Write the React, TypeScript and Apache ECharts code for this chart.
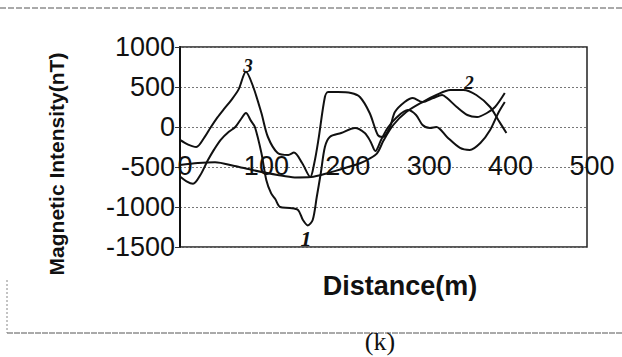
import React, { useEffect, useRef } from "react";
import * as echarts from "echarts";

// Distance (m) and magnetic intensity (nT) for each profile
const dist1 = [0, 8, 16, 25, 34, 42, 50, 60, 68, 75, 81, 87, 92, 100, 106, 112, 117, 123, 135, 145, 151, 157, 163, 168, 173, 178, 184, 198, 215, 227, 234, 240, 247, 255, 266, 280, 290, 298, 307, 315, 328, 344, 356, 369, 381, 391, 399];
const vals1 = [-620, -680, -710, -600, -420, -280, -160, -60, 0, 100, 175, 80, 0, -325, -662, -830, -900, -1000, -1012, -1037, -1162, -1230, -1162, -875, -575, -250, -125, -75, -12, -75, -180, -300, -162, -12, 120, 212, 150, 25, -12, 0, -125, -262, -287, -200, -37, 175, 312];

const dist2 = [0, 22, 43, 67, 90, 120, 141, 161, 182, 203, 222, 232, 242, 250, 262, 278, 298, 315, 332, 348, 364, 381, 391, 401];
const vals2 = [-475, -450, -440, -487, -540, -600, -630, -625, -575, -512, -450, -400, -330, -170, 25, 187, 312, 400, 462, 462, 400, 250, 87, -75];

const dist3 = [0, 10, 20, 30, 38, 46, 53, 63, 72, 81, 90, 100, 108, 120, 133, 140, 150, 160, 165, 170, 178, 182, 194, 210, 221, 233, 243, 249, 258, 264, 276, 286, 298, 311, 322, 328, 340, 353, 365, 377, 387, 399];
const vals3 = [-162, -220, -250, -130, 0, 120, 212, 337, 470, 690, 500, 175, -125, -325, -350, -320, -450, -625, -450, -162, 375, 437, 437, 425, 375, 175, -100, -125, 0, 187, 312, 362, 312, 362, 400, 362, 250, 150, 125, 175, 250, 425];

const xTicks = [0, 100, 200, 300, 400, 500];
const yTicks = [-1500, -1000, -500, 0, 500, 1000];

const curveLabels = ["1", "2", "3"];

function pairs(d: number[], v: number[]) {
  return d.map((x, i) => [x, v[i]]);
}

export default function App() {
  const ref = useRef<HTMLDivElement>(null);
  useEffect(() => {
    if (!ref.current) return;
    const chart = echarts.init(ref.current, null, { renderer: "svg" });
    const lineStyle = { color: "#111", width: 2 };
    const mk = (name: string, d: number[], v: number[]) => ({
      name,
      type: "line",
      data: pairs(d, v),
      showSymbol: false,
      smooth: 0.3,
      lineStyle,
      z: 5,
    });
    chart.setOption({
      animation: false,
      backgroundColor: "#fff",
      grid: {
        left: 180,
        top: 47,
        width: 407,
        height: 200,
        show: true,
        borderColor: "#222",
        borderWidth: 1.5,
        backgroundColor: "transparent",
      },
      xAxis: {
        type: "value",
        min: xTicks[0],
        max: xTicks[xTicks.length - 1],
        interval: 100,
        axisLine: { show: false },
        axisTick: { show: false },
        splitLine: { show: false },
        axisLabel: {
          margin: -81,
          verticalAlign: "middle",
          padding: [0, 0, 0, 10],
          fontSize: 27,
          fontFamily: "Liberation Sans, Arial, sans-serif",
          color: "#111",
          formatter: (v: number) => String(v),
        },
      },
      yAxis: {
        type: "value",
        min: yTicks[0],
        max: yTicks[yTicks.length - 1],
        interval: 500,
        axisLine: { show: true, lineStyle: { color: "#111", width: 2 } },
        axisTick: { show: true, length: 5, lineStyle: { color: "#333" } },
        splitLine: {
          show: true,
          lineStyle: { color: "#777", type: [2, 2], width: 1 },
        },
        axisLabel: {
          margin: 5,
          fontSize: 27,
          fontFamily: "Liberation Sans, Arial, sans-serif",
          color: "#111",
          formatter: (v: number) => String(v),
        },
      },
      series: [mk("1", dist1, vals1), mk("2", dist2, vals2), mk("3", dist3, vals3)],
      graphic: [
        { type: "line", shape: { x1: 0, y1: 8, x2: 622, y2: 8 }, style: { stroke: "#555", lineWidth: 1, lineDash: [6, 2] } },
        { type: "line", shape: { x1: 7, y1: 333, x2: 622, y2: 333 }, style: { stroke: "#555", lineWidth: 1, lineDash: [6, 1] } },
        { type: "line", shape: { x1: 7, y1: 280, x2: 7, y2: 333 }, style: { stroke: "#888", lineWidth: 1, lineDash: [2, 2] } },
        {
          type: "text",
          x: 56,
          y: 164,
          rotation: Math.PI / 2,
          style: {
            text: "Magnetic Intensity(nT)",
            fontSize: 21,
            fontWeight: "bold",
            fontFamily: "Liberation Sans, Arial, sans-serif",
            fill: "#111",
            align: "center",
            verticalAlign: "middle",
          },
        },
        {
          type: "text",
          x: 400,
          y: 286,
          style: {
            text: "Distance(m)",
            fontSize: 27,
            fontWeight: "bold",
            fontFamily: "Liberation Sans, Arial, sans-serif",
            fill: "#111",
            align: "center",
            verticalAlign: "middle",
          },
        },
        {
          type: "text",
          x: 380,
          y: 341,
          style: {
            text: "(k)",
            fontSize: 26,
            fontFamily: "Liberation Serif, Times New Roman, serif",
            fill: "#111",
            align: "center",
            verticalAlign: "middle",
          },
        },
        {
          type: "text",
          x: 306,
          y: 238,
          z: 10,
          style: { text: curveLabels[0], fontSize: 22, fontStyle: "italic", fontWeight: "bold", fontFamily: "Liberation Serif, serif", fill: "#111", align: "center", verticalAlign: "middle" },
        },
        {
          type: "text",
          x: 469,
          y: 82,
          z: 10,
          style: { text: curveLabels[1], fontSize: 19, fontStyle: "italic", fontWeight: "bold", fontFamily: "Liberation Serif, serif", fill: "#111", align: "center", verticalAlign: "middle" },
        },
        {
          type: "text",
          x: 248,
          y: 65,
          z: 10,
          style: { text: curveLabels[2], fontSize: 19, fontStyle: "italic", fontWeight: "bold", fontFamily: "Liberation Serif, serif", fill: "#111", align: "center", verticalAlign: "middle" },
        },
      ],
    });
    return () => chart.dispose();
  }, []);
  return (
    <div
      ref={ref}
      style={{ position: "fixed", left: 0, top: 0, width: 622, height: 357 }}
    />
  );
}
